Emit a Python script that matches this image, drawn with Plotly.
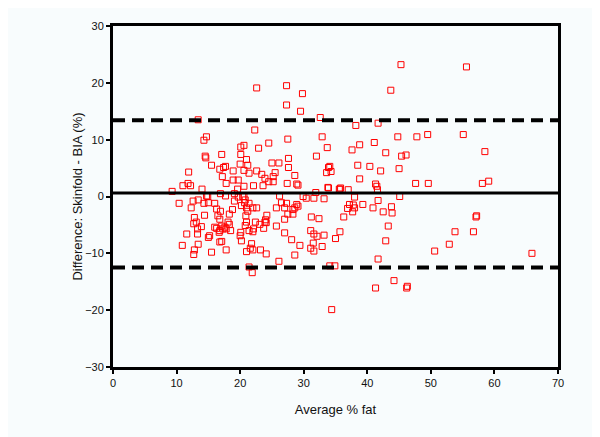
import plotly.graph_objects as go

# Bland-Altman: skinfold vs BIA body fat
avg_fat = [
    22.6, 27.3, 29.8, 27.3, 29.5, 32.6, 13.4, 22.3, 32.9, 27.5, 14.7, 14.3, 24.5, 20.6, 20.1,
    22.9, 33.7, 17.1, 20.1, 14.5, 14.6, 32.0, 21.0, 27.6, 15.5, 25.0, 26.1, 20.0, 21.2, 27.6,
    33.9, 11.9, 16.8, 17.7, 17.4, 18.9, 20.6, 21.4, 22.6, 23.4, 25.5, 33.6, 34.3, 17.2, 28.6,
    23.9, 25.2, 18.9, 19.7, 24.5, 25.2, 17.8, 27.4, 28.9, 29.1, 11.0, 11.8, 12.2, 22.1, 23.6,
    20.6, 14.0, 19.6, 33.8, 9.3,
    45.3, 55.6, 43.7, 38.2, 41.7, 44.8, 47.8, 49.5, 55.1, 37.6, 38.8, 41.1, 42.9, 45.4, 46.1,
    58.5, 38.5, 40.4, 42.1, 45.0, 34.1, 38.8, 47.6, 49.6, 58.1, 59.1, 35.8, 35.7, 37.0, 41.3,
    41.5, 41.6, 38.0, 45.1, 41.7,
    39.3, 37.2, 36.9, 37.8, 38.0, 37.7, 40.9, 42.5, 43.8, 43.9, 36.3, 57.1, 57.2, 43.3, 53.8,
    56.7, 35.7, 35.0, 42.9, 52.9, 50.6, 65.9, 41.7, 34.1, 34.9, 44.2, 41.3, 46.2, 46.3, 34.4,
    14.9, 17.7, 13.4, 12.6, 10.4, 12.3, 14.3, 15.0, 16.0, 16.3, 16.9, 16.5, 16.8, 18.8, 18.3,
    18.1, 18.3, 19.1, 19.7, 20.2, 20.7, 21.0, 21.2, 20.6, 20.8, 21.4, 22.0, 22.6, 20.9, 21.0,
    20.8, 21.4, 22.0, 22.1, 22.4, 23.1, 23.9, 24.2, 24.0, 24.1, 23.7, 25.7, 26.5, 27.0, 27.3,
    27.5, 28.3, 28.3, 28.6, 28.9, 29.1, 27.0, 25.7, 27.0, 28.1, 29.4, 26.1, 28.6, 23.2, 24.1,
    21.8, 21.6, 22.0, 21.0, 21.9, 21.4, 20.2, 20.0, 20.1, 17.8, 16.8, 17.1, 15.2, 15.0, 15.5,
    13.4, 12.8, 12.7, 10.9, 11.6, 13.3, 12.7, 13.1, 13.9, 13.3, 12.8, 14.4, 16.0, 16.3, 16.8,
    17.3, 17.6, 17.1, 17.8, 16.7, 18.5, 29.9, 30.4, 31.6, 33.2, 31.2, 32.4, 31.1, 31.6, 32.1,
    33.2, 31.5, 31.1, 31.6, 32.9,
    14.7, 16.9, 19.1, 20.4, 26.2, 31.9, 33.9, 35.6,
]
diff = [
    19.1, 19.5, 18.1, 16.1, 15.0, 13.9, 13.5, 11.7, 10.5, 10.1, 10.5, 9.9, 9.4, 9.0, 8.7,
    8.5, 8.6, 7.4, 7.4, 7.1, 6.8, 7.1, 6.5, 6.7, 5.5, 5.9, 5.9, 5.7, 5.5, 5.1,
    5.1, 4.3, 4.8, 5.3, 5.1, 4.5, 4.6, 4.1, 4.5, 3.9, 4.2, 4.2, 4.4, 3.5, 3.7,
    3.2, 3.5, 2.9, 2.9, 2.6, 2.6, 2.3, 2.3, 2.2, 2.0, 1.9, 2.3, 1.9, 1.9, 1.9,
    1.8, 1.3, 1.3, 1.6, 0.9,
    23.2, 22.8, 18.7, 12.5, 12.9, 10.5, 10.5, 10.9, 10.9, 8.2, 9.1, 9.5, 7.7, 7.1, 7.3,
    7.9, 5.5, 5.3, 4.5, 4.9, 5.3, 3.1, 2.3, 2.3, 2.3, 2.7, 1.5, 1.3, 1.2, 2.2,
    1.8, 1.2, -0.1, 0.0, -0.7,
    -1.4, -1.4, -2.1, -1.5, -2.0, -2.7, -2.0, -2.7, -1.8, -2.9, -3.6, -3.6, -3.4, -5.2, -6.2,
    -6.2, -6.2, -7.4, -7.8, -8.4, -9.6, -10.0, -11.0, -12.2, -12.2, -14.8, -16.1, -16.1, -15.8, -19.9,
    0.0, 0.1, -0.6, -0.8, -1.2, -2.0, -1.2, -1.1, -1.2, -2.2, -2.6, -3.4, -4.0, -2.3, -3.1,
    -4.5, -4.9, -0.8, -0.1, -1.6, -1.1, -2.0, -2.6, 0.0, -0.6, -1.2, -2.0, -2.0, -3.4, -4.5,
    -5.1, -6.0, -6.2, -5.7, -4.5, -4.9, -4.5, -3.3, -4.1, -4.6, -5.6, -2.0, -1.1, -2.0, -1.2,
    -3.1, -3.1, -2.3, -2.0, -1.4, -1.7, -4.0, -5.2, -6.4, -7.6, -8.6, -11.4, -10.3, -9.4, -10.1,
    -8.3, -9.1, -9.4, -9.7, -13.4, -12.4, -7.8, -6.9, -6.3, -9.4, -8.0, -7.9, -6.9, -7.2, -9.8,
    -8.4, -9.4, -10.2, -8.6, -6.6, -6.6, -4.8, -4.5, -5.3, -5.7, -3.7, -3.3, -5.4, -5.6, -6.0,
    -5.7, -5.4, -5.2, -5.7, -6.3, -6.0, 0.0, -0.3, -0.3, -0.4, -3.6, -3.9, -6.0, -6.6, -7.0,
    -6.8, -8.2, -9.1, -9.6, -8.8,
    0.1, 0.5, 0.5, 0.0, 0.1, 0.7, 1.5, 1.3,
]

mean_diff = 0.6
upper_loa = 13.4
lower_loa = -12.5

fig = go.Figure()

fig.add_trace(go.Scatter(
    x=avg_fat,
    y=diff,
    mode='markers',
    marker=dict(symbol='square-open', size=6, color='#ff0000',
                line=dict(width=1, color='#ff0000')),
    showlegend=False,
))

# mean line and limits of agreement
for yv, dash in [(mean_diff, 'solid'), (upper_loa, 'dash'), (lower_loa, 'dash')]:
    fig.add_shape(
        type='line', xref='paper', x0=0, x1=1, yref='y', y0=yv, y1=yv,
        line=dict(color='black', width=4 if dash == 'dash' else 3,
                  dash='12px,7px' if dash == 'dash' else 'solid'),
    )

axis_font = dict(family='Liberation Sans, Arial', size=11, color='#111')

# page has an 8px body margin, so the figure is a bit smaller than the window
fig.update_layout(
    width=592,
    height=429,
    margin=dict(l=105, r=42, t=12, b=70),
    paper_bgcolor='#f8fcfd',
    plot_bgcolor='#f8fcfd',
    font=axis_font,
    xaxis=dict(
        range=[0, 70],
        tickvals=[0, 10, 20, 30, 40, 50, 60, 70],
        showgrid=False, zeroline=False,
        showline=True, linecolor='black', linewidth=3, mirror=True,
        ticks='outside', ticklen=4, tickwidth=2, tickcolor='black',
        title=dict(text='Average % fat', font=dict(size=13), standoff=17),
    ),
    yaxis=dict(
        range=[-30, 30],
        tickvals=[-30, -20, -10, 0, 10, 20, 30],
        showgrid=False, zeroline=False,
        showline=True, linecolor='black', linewidth=3, mirror=True,
        ticks='outside', ticklen=4, tickwidth=2, tickcolor='black',
        title=dict(text='Difference: Skinfold - BIA (%)', font=dict(size=13), standoff=0),
    ),
)

fig.write_html("out.html")
